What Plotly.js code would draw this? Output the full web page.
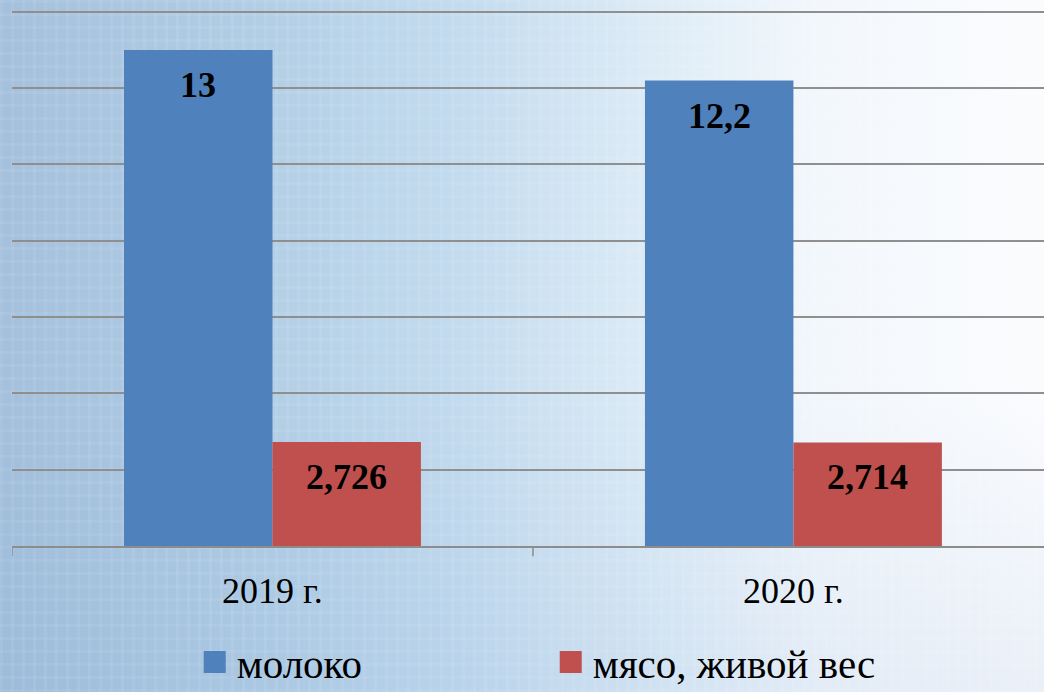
<!DOCTYPE html>
<html>
<head>
<meta charset="utf-8">
<script src="https://cdn.plot.ly/plotly-3.0.1.min.js"></script>
<style>
html,body{margin:0;padding:0;width:1044px;height:692px;overflow:hidden;}
body{
  background:
    repeating-linear-gradient(90deg, rgba(255,255,255,0.07) 0px, rgba(255,255,255,0.07) 3px, rgba(255,255,255,0) 3px, rgba(255,255,255,0) 11px),
    repeating-linear-gradient(0deg, rgba(255,255,255,0.06) 0px, rgba(255,255,255,0.06) 3px, rgba(255,255,255,0) 3px, rgba(255,255,255,0) 13px),
    linear-gradient(180deg, rgba(255,255,255,0) 55%, rgba(110,150,205,0.12) 100%),
    linear-gradient(90deg, #a4c0dc 0%, #b2cee5 25%, #c4dcef 45%, #dcebf6 62%, #f2f7fc 78%, #fbfcfe 100%);
}
#chart{width:1044px;height:692px;}
</style>
</head>
<body>
<div id="chart"></div>
<script>
var categories = ["2019 г.", "2020 г."];
var milk = [13, 12.2];
var meat = [2.726, 2.714];
var milkLabels = ["13", "12,2"];
var meatLabels = ["2,726", "2,714"];
var seriesNames = ["молоко", "мясо, живой вес"];

var bargap = 0.43;
var serif = "Liberation Serif, Times New Roman, serif";

var traces = [
  {type: "bar", x: [0, 1], y: milk, name: seriesNames[0],
   marker: {color: "#4f81bd"}, hoverinfo: "none"},
  {type: "bar", x: [0, 1], y: meat, name: seriesNames[1],
   marker: {color: "#c0504d"}, hoverinfo: "none"}
];

var annotations = [];
var off = (1 - bargap) / 4;
for (var i = 0; i < categories.length; i++) {
  annotations.push({x: i - off, y: milk[i], xref: "x", yref: "y", text: milkLabels[i],
    showarrow: false, yanchor: "middle", yshift: -35,
    font: {family: serif, size: 36, color: "#000", weight: "bold"}});
  annotations.push({x: i + off, y: meat[i], xref: "x", yref: "y", text: meatLabels[i],
    showarrow: false, yanchor: "middle", yshift: -35,
    font: {family: serif, size: 36, color: "#000", weight: "bold"}});
}

var layout = {
  width: 1044, height: 692,
  margin: {l: 12, r: 0, t: 8, b: 146, autoexpand: false},
  paper_bgcolor: "rgba(0,0,0,0)",
  plot_bgcolor: "rgba(0,0,0,0)",
  barmode: "group",
  bargap: bargap,
  bargroupgap: 0,
  showlegend: true,
  legend: {orientation: "h", x: 0.179, xanchor: "left",
    yref: "container", y: 0.043, yanchor: "middle",
    font: {family: serif, size: 41, color: "#000"},
    entrywidth: 311, entrywidthmode: "pixels", bgcolor: "rgba(0,0,0,0)"},
  xaxis: {
    type: "linear",
    range: [-0.5, 1.481],
    tickmode: "array", tickvals: [0, 1], ticktext: categories,
    ticks: "", showgrid: false, zeroline: false,
    showline: true, linecolor: "#8c8c8c", linewidth: 1.5,
    tickfont: {family: serif, size: 36, color: "#000"},
    ticklabelstandoff: 12
  },
  yaxis: {
    range: [0, 14.1],
    dtick: 2, tick0: 0,
    showticklabels: false, ticks: "",
    showgrid: true, gridcolor: "#8f8f8f", gridwidth: 2,
    zeroline: false, showline: false
  },
  shapes: [-0.5, 0.5].map(function(b){
    return {type: "line", xref: "x", yref: "paper", x0: b, x1: b, y0: 0, y1: -0.019,
      line: {color: "#8c8c8c", width: 1.5}};
  }),
  annotations: annotations
};

Plotly.newPlot("chart", traces, layout, {staticPlot: true}).then(function(gd){
  var paths = gd.querySelectorAll(".legend .legendpoints path");
  paths.forEach(function(p){ p.setAttribute("d", "M29,11H7V-11H29Z"); p.removeAttribute("transform"); });
});
</script>
</body>
</html>
